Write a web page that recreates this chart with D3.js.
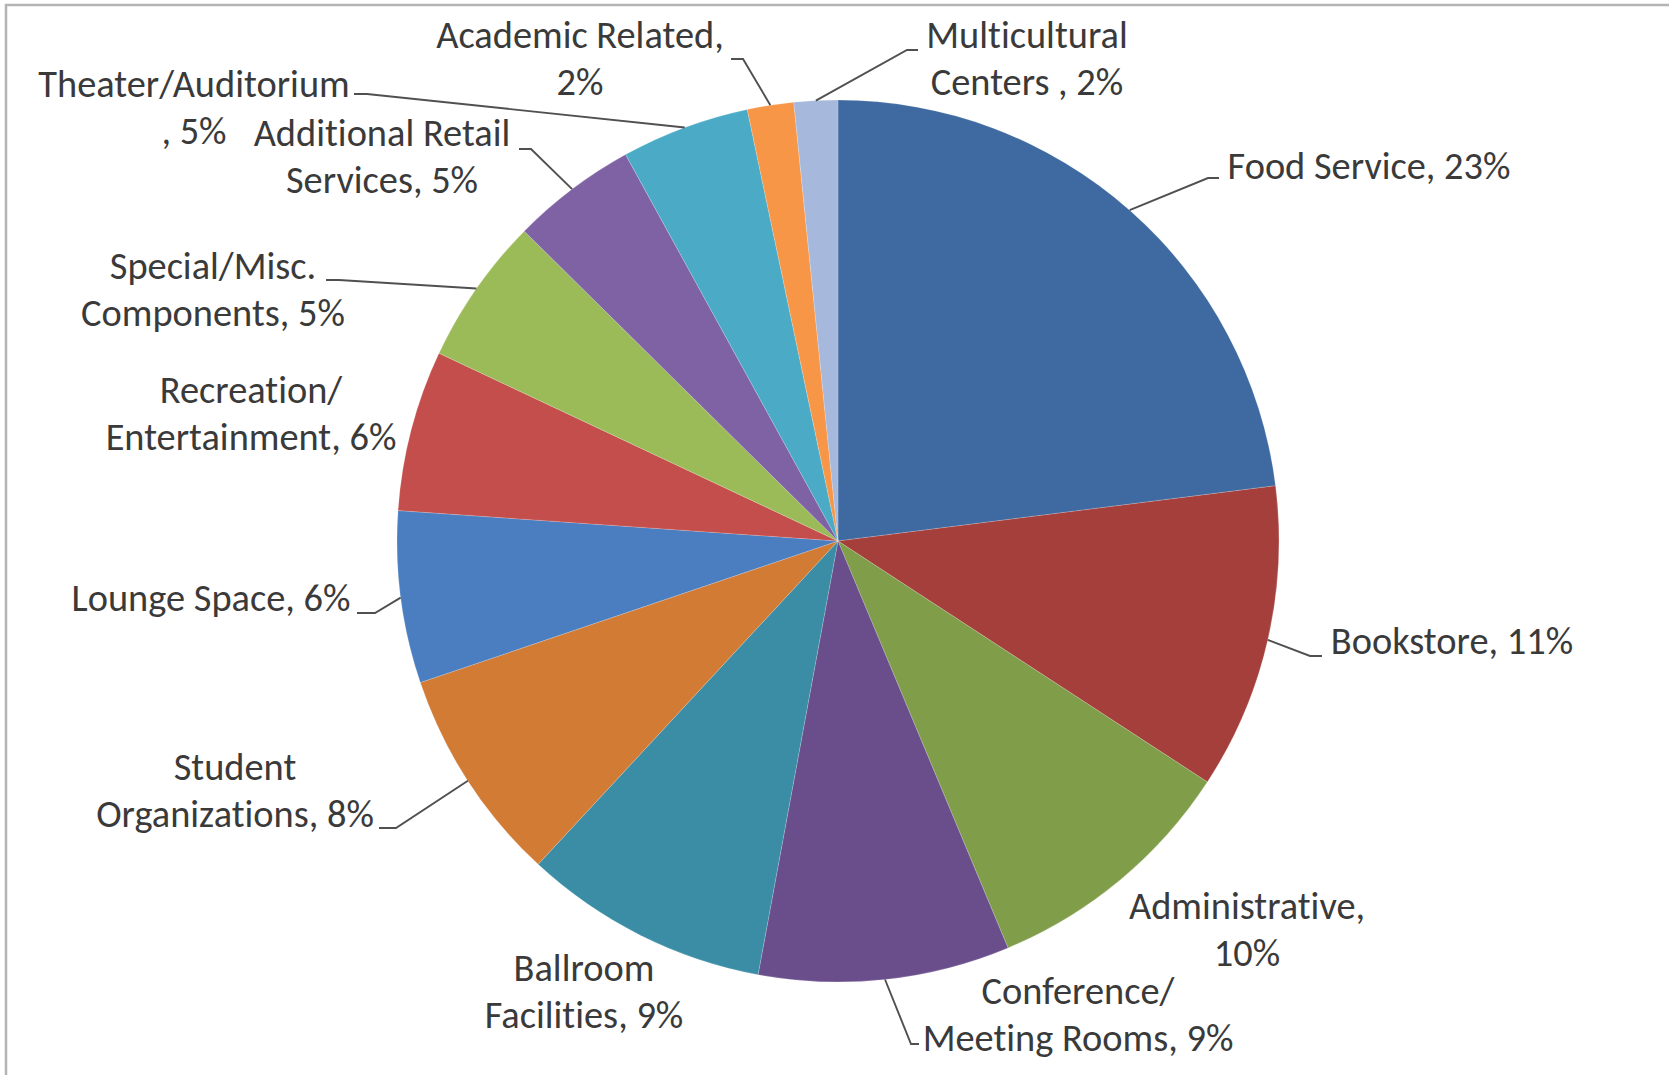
<!DOCTYPE html>
<html>
<head>
<meta charset="utf-8">
<script src="https://cdn.jsdelivr.net/npm/d3@7"></script>
<style>
  html, body { margin: 0; padding: 0; background: #ffffff; }
  svg { display: block; }
  text { font-variant-ligatures: none; font-feature-settings: "liga" 0, "clig" 0; }
</style>
</head>
<body>
<svg id="chart" width="1669" height="1075"></svg>
<script>
// ---- data ----
const categories = [
  "Food Service", "Bookstore", "Administrative", "Conference/ Meeting Rooms",
  "Ballroom Facilities", "Student Organizations", "Lounge Space",
  "Recreation/ Entertainment", "Special/Misc. Components",
  "Additional Retail Services", "Theater/Auditorium ", "Academic Related",
  "Multicultural Centers "
];
// slice shares
const values = [23.0, 11.2, 9.5, 9.2, 9.0, 7.9, 6.3, 5.9, 5.4, 4.6, 4.7, 1.7, 1.6];
// percentages as printed in the labels
const pctLabels = [23, 11, 10, 9, 9, 8, 6, 6, 5, 5, 5, 2, 2];
const colors = [
  "#3E6AA1", "#A53F3C", "#809E4A", "#6A4E8B", "#3B8DA6", "#D17B35",
  "#4A7EC0", "#C44E4B", "#9BBB59", "#7F62A4", "#4BABC6", "#F79646", "#A6B9DC"
];

// ---- layout ----
const W = 1669, H = 1075;
const cx = 838, cy = 541, R = 441;
const lineH = 47;
// label centre x, first baseline y, words on first line (0 = no wrap), leader start/elbow
const labelLayout = [
  {x: 1369, y: 179,  wrap: 0, leader: [[1219, 178], [1208, 178]]},
  {x: 1452, y: 654,  wrap: 0, leader: [[1322, 656], [1310, 656]]},
  {x: 1247, y: 919,  wrap: 1, leader: null},
  {x: 1078, y: 1004, wrap: 1, leader: [[919, 1044], [911, 1044]]},
  {x: 584,  y: 981,  wrap: 1, leader: null},
  {x: 235,  y: 780,  wrap: 1, leader: [[379, 828], [396, 828]]},
  {x: 211,  y: 611,  wrap: 0, leader: [[357, 613], [375, 613]]},
  {x: 251,  y: 403,  wrap: 1, leader: null},
  {x: 213,  y: 279,  wrap: 1, leader: [[326, 280], [339, 280]]},
  {x: 382,  y: 146,  wrap: 2, leader: [[519, 149], [531, 149]]},
  {x: 194,  y: 97,   wrap: 1, leader: [[354, 94], [367, 94]]},
  {x: 580,  y: 48,   wrap: 2, leader: [[731, 59], [743, 59]]},
  {x: 1027, y: 48,   wrap: 1, leader: [[918, 50], [907, 50]]}
];
const fontFamily = "Carlito, Calibri, Lato, 'Open Sans', sans-serif";

const svg = d3.select("#chart");
svg.append("rect").attr("width", W).attr("height", H).attr("fill", "#fff");
// chart-area border (top and left visible)
svg.append("rect")
  .attr("x", 6).attr("y", 5).attr("width", W + 20).attr("height", H + 20)
  .attr("fill", "none").attr("stroke", "#b4b4b4").attr("stroke-width", 2.5);

const data = categories.map((c, i) => ({cat: c, value: values[i], pct: pctLabels[i], color: colors[i], i}));

const pie = d3.pie().sort(null).value(d => d.value).startAngle(0).endAngle(2 * Math.PI);
const arcs = pie(data);
const arc = d3.arc().innerRadius(0).outerRadius(R);
const rim = d3.arc().innerRadius(R).outerRadius(R);

const g = svg.append("g").attr("transform", `translate(${cx},${cy})`);
g.selectAll("path.slice").data(arcs).enter().append("path")
  .attr("class", "slice")
  .attr("d", arc)
  .attr("fill", d => d.data.color)
  .attr("stroke", "#ffffff").attr("stroke-opacity", 0.22).attr("stroke-width", 0.8);

// leader lines
const lineGen = d3.line();
arcs.forEach(a => {
  const L = labelLayout[a.data.i];
  if (!L.leader) return;
  const c = rim.centroid(a);
  const pts = [L.leader[0], L.leader[1], [cx + c[0], cy + c[1]]];
  svg.append("path").attr("d", lineGen(pts))
    .attr("fill", "none").attr("stroke", "#505050").attr("stroke-width", 1.9);
});

// font size fitted so "Food Service, 23%" is ~283px wide
const probe = svg.append("text").attr("font-family", fontFamily).attr("font-size", 100)
  .text(categories[0] + ", " + pctLabels[0] + "%");
const probeLen = probe.node().getComputedTextLength();
probe.remove();
const fontSize = Math.min(40, Math.max(28, 100 * 283 / probeLen));

// labels
const labels = svg.append("g").attr("font-family", fontFamily).attr("font-size", fontSize)
  .attr("fill", "#3a3a3a").attr("text-anchor", "middle");
data.forEach(d => {
  const L = labelLayout[d.i];
  const words = (d.cat + ", " + d.pct + "%").split(/\s+/).filter(w => w.length);
  const lines = L.wrap ? [words.slice(0, L.wrap).join(" "), words.slice(L.wrap).join(" ")] : [words.join(" ")];
  const t = labels.append("text").attr("x", L.x).attr("y", L.y);
  lines.forEach((ln, k) => {
    t.append("tspan").attr("x", L.x).attr("y", L.y + k * lineH).text(ln);
  });
});
</script>
</body>
</html>
